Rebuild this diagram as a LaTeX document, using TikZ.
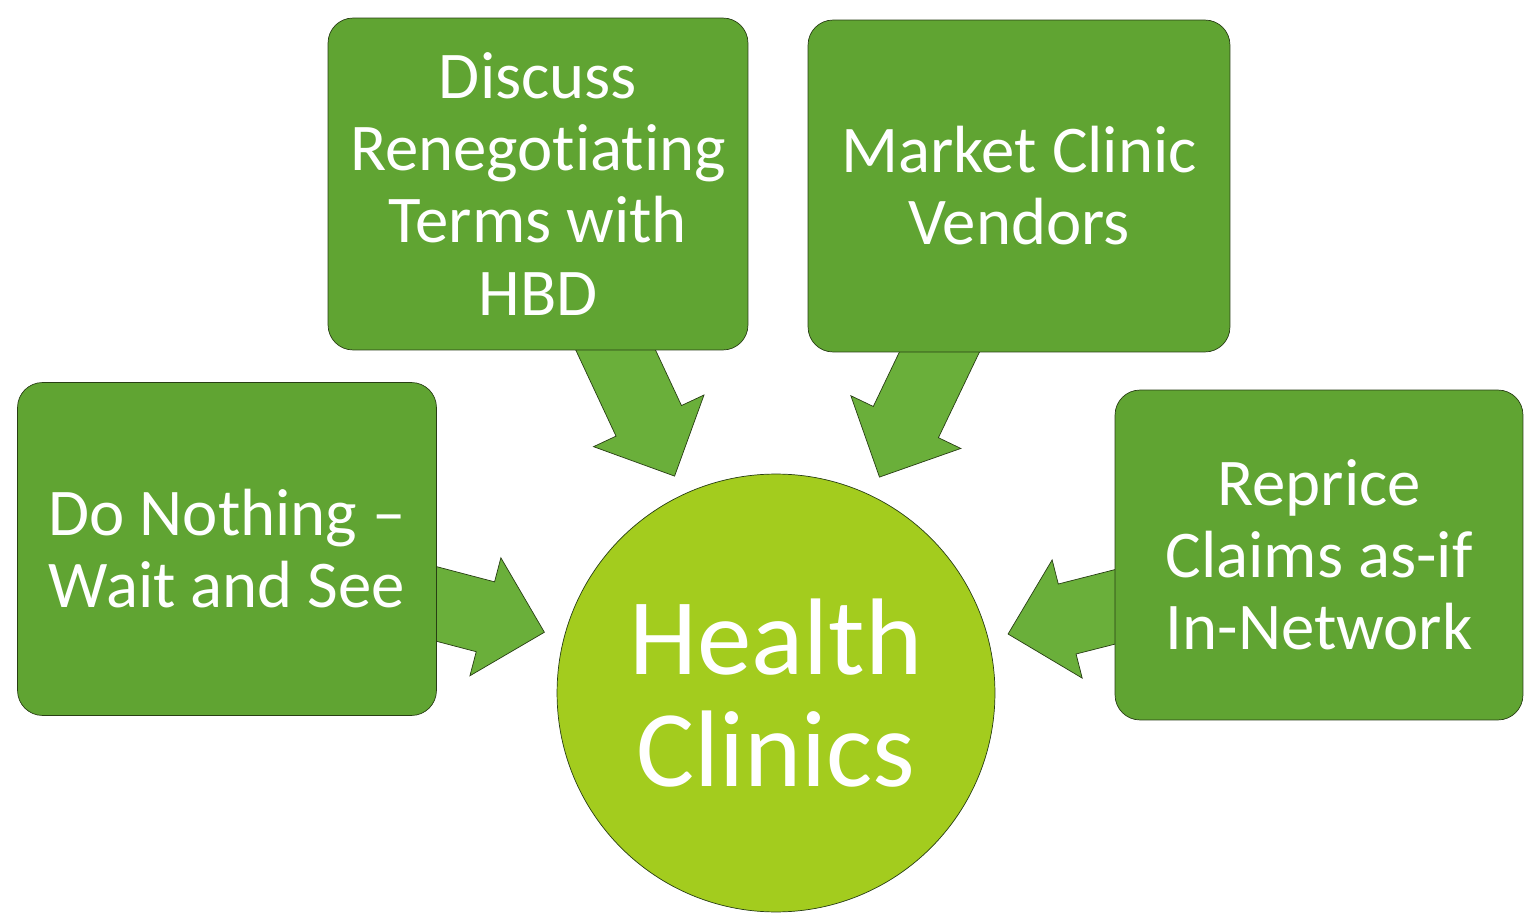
\documentclass[tikz,border=0pt]{standalone}
\usepackage{fontspec}
\setmainfont{Carlito}[Ligatures={TeX,NoCommon}]
\usetikzlibrary{shapes.arrows,calc,backgrounds}

\definecolor{boxgreen}{RGB}{96,164,50}
\definecolor{arrowgreen}{RGB}{106,175,58}
\definecolor{hubgreen}{RGB}{163,204,30}
\definecolor{rimgreen}{RGB}{40,62,20}

\begin{document}
\begin{tikzpicture}[x=0.02cm, y=-0.02cm, thin,
    option/.style={draw=rimgreen, fill=boxgreen, rounded corners=0.5cm, text=white, align=center, inner sep=0pt, font=\fontsize{38}{41}\selectfont},
    hub/.style={circle, draw=rimgreen, fill=hubgreen, text=white, align=center, inner sep=0pt, minimum size=8.76cm, font=\fontsize{62}{64}\selectfont},
    flow/.style={single arrow, draw=rimgreen, fill=arrowgreen, single arrow head extend=0.27cm, minimum width=2.44cm, inner xsep=0pt, inner ysep=0.385cm, anchor=tip}]
        \useasboundingbox (0,0) rectangle (1525,918);

        \node[hub] (health) at (776,693) {Health\\Clinics};
        \node[option, minimum width=8.4cm, minimum height=6.64cm] (discuss) at (538,184) {Discuss\\Renegotiating\\Terms with\\HBD};
        \node[option, minimum width=8.44cm, minimum height=6.64cm] (market) at (1019,186) {Market Clinic\\Vendors};
        \node[option, minimum width=8.38cm, minimum height=6.66cm] (wait) at (227,549) {Do Nothing --\\Wait and See};
        \node[option, minimum width=8.16cm, minimum height=6.6cm] (reprice) at (1319,555) {Reprice\\Claims as-if\\In-Network};

        % block arrows sit behind the boxes, tips just short of the circle
        \begin{scope}[on background layer]
          \foreach \b in {discuss,market,wait,reprice}
            \path let \p1=(\b.center), \p2=($(health.center)!4.78cm!(\b.center)$),
                      \n1={atan2(\y2-\y1,\x2-\x1)}, \n2={veclen(\x2-\x1,\y2-\y1)} in
              node[flow, minimum height=\n2, rotate=\n1] (to-\b) at (\p2) {};
        \end{scope}
      \end{tikzpicture}
\end{document}
